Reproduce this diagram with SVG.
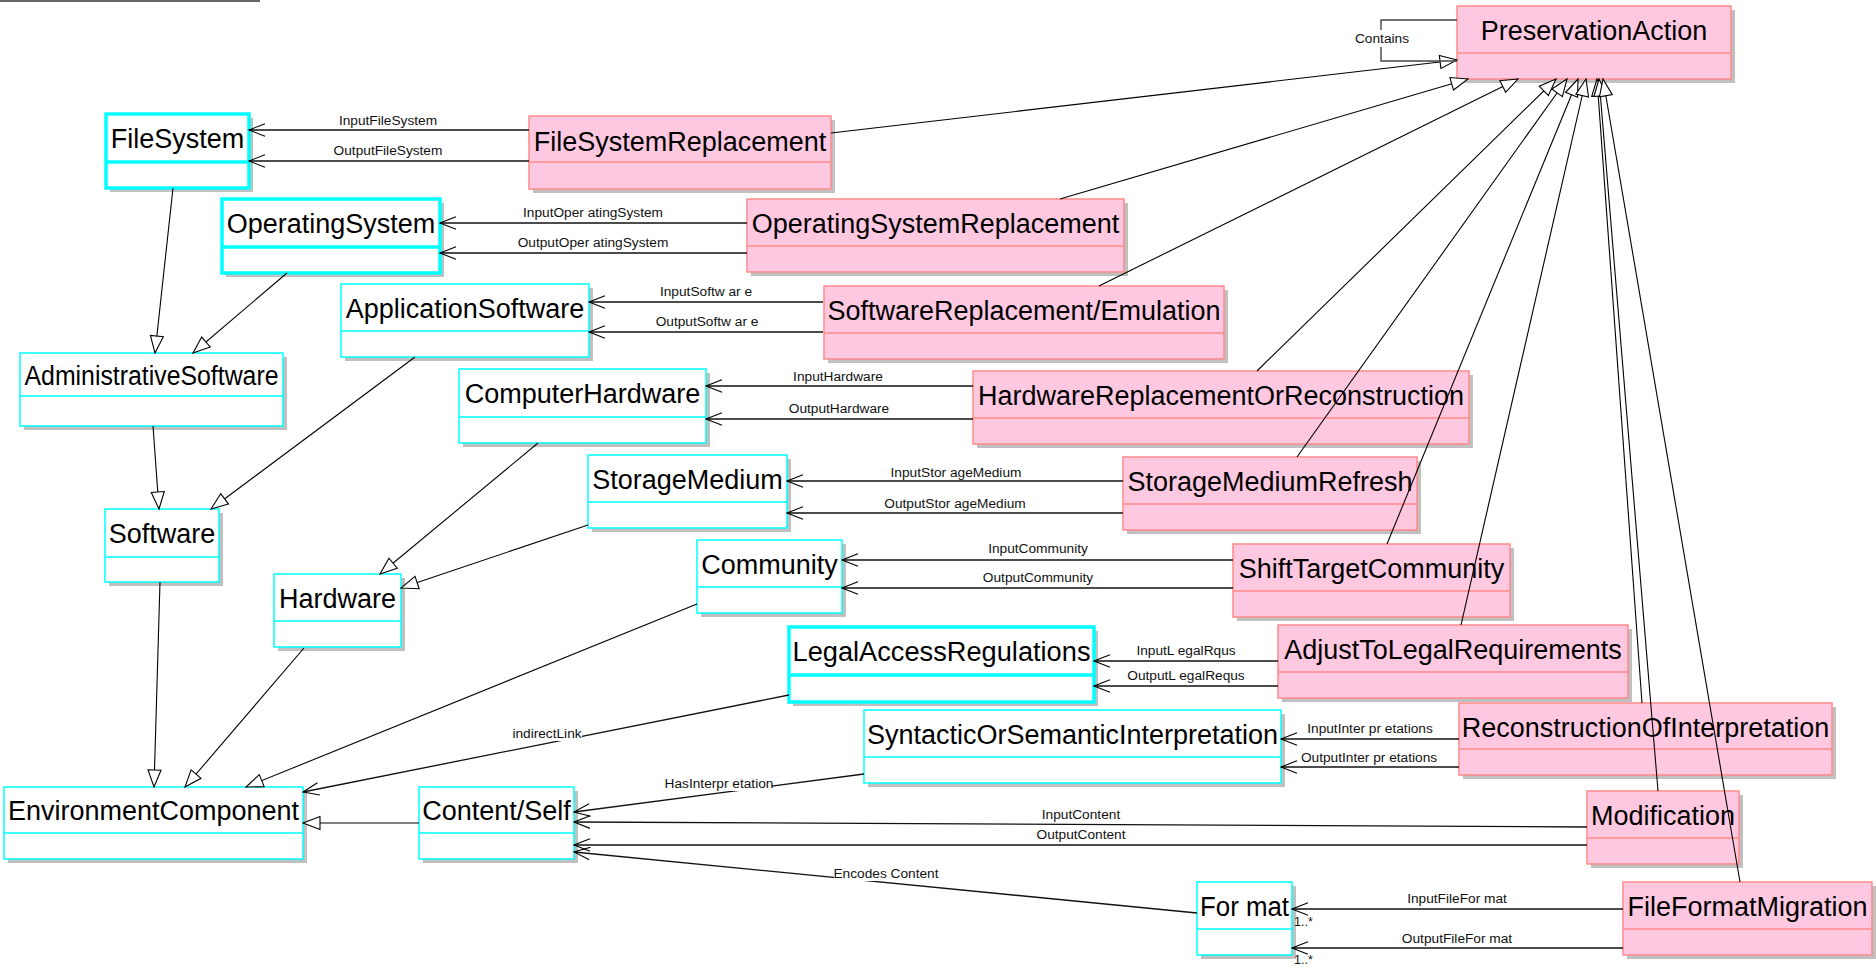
<svg xmlns="http://www.w3.org/2000/svg" width="1876" height="974" viewBox="0 0 1876 974">
<style>
  .sh{fill:#c0c0c0;stroke:none}
  .cy .box{fill:#fff;stroke:#00ffff;stroke-width:1.5}
  .cy .div{stroke:#00ffff;stroke-width:1.5}
  .thick .box{stroke-width:3.5}
  .thick .div{stroke-width:3.5}
  .pk .box{fill:#ffc8e1;stroke:#ff8a8a;stroke-width:1.5}
  .pk .div{stroke:#ff8a8a;stroke-width:1.5}
  .title{font-family:"Liberation Sans",Arial,sans-serif;font-size:27px;fill:#000;text-anchor:middle}
  .lbl{font-family:"Liberation Sans",Arial,sans-serif;font-size:13.7px;fill:#111;text-anchor:middle}
  .mult{font-family:"Liberation Sans",Arial,sans-serif;font-size:12.5px;fill:#111}
  .gen{fill:none;stroke:#000;stroke-width:1.1;marker-end:url(#gen)}
  .asc{fill:none;stroke:#111;stroke-width:1.3;marker-end:url(#open)}
  .loop{fill:none;stroke:#444;stroke-width:1.4}
  .bg{fill:#fff}
</style>
<defs>
  <marker id="gen" viewBox="-19 -9 21 18" markerWidth="21" markerHeight="18" refX="0" refY="0" orient="auto" markerUnits="userSpaceOnUse">
    <path d="M0,0 L-17,-6.5 L-17,6.5 Z" fill="#fff" stroke="#000" stroke-width="1.1"/>
  </marker>
  <marker id="open" viewBox="-19 -9 21 18" markerWidth="21" markerHeight="18" refX="0" refY="0" orient="auto" markerUnits="userSpaceOnUse">
    <path d="M-16,-6.3 L0,0 L-16,6.3" fill="none" stroke="#000" stroke-width="1.1"/>
  </marker>
</defs>
<rect width="1876" height="974" fill="#fff"/>
<line x1="0" y1="1" x2="260" y2="1" stroke="#333" stroke-width="1.3"/>

<g id="nodes">
  <g id="n-FileSystem" class="cy thick">
    <rect class="sh" x="110" y="118" width="143" height="74"/>
    <rect class="box" x="106" y="114" width="143" height="74"/>
    <line class="div" x1="106" y1="162" x2="249" y2="162"/>
    <text class="title" x="177.5" y="148">FileSystem</text>
  </g>
  <g id="n-OperatingSystem" class="cy thick">
    <rect class="sh" x="226" y="203" width="218" height="74"/>
    <rect class="box" x="222" y="199" width="218" height="74"/>
    <line class="div" x1="222" y1="247" x2="440" y2="247"/>
    <text class="title" x="331" y="233">OperatingSystem</text>
  </g>
  <g id="n-ApplicationSoftware" class="cy">
    <rect class="sh" x="345" y="288" width="248" height="73"/>
    <rect class="box" x="341" y="284" width="248" height="73"/>
    <line class="div" x1="341" y1="331" x2="589" y2="331"/>
    <text class="title" x="465" y="318">ApplicationSoftware</text>
  </g>
  <g id="n-AdministrativeSoftware" class="cy">
    <rect class="sh" x="24" y="357" width="263" height="73"/>
    <rect class="box" x="20" y="353" width="263" height="73"/>
    <line class="div" x1="20" y1="396" x2="283" y2="396"/>
    <text class="title" x="151.5" y="385" textLength="254" lengthAdjust="spacingAndGlyphs">AdministrativeSoftware</text>
  </g>
  <g id="n-ComputerHardware" class="cy">
    <rect class="sh" x="463" y="373" width="247" height="74"/>
    <rect class="box" x="459" y="369" width="247" height="74"/>
    <line class="div" x1="459" y1="417" x2="706" y2="417"/>
    <text class="title" x="582.5" y="403">ComputerHardware</text>
  </g>
  <g id="n-StorageMedium" class="cy">
    <rect class="sh" x="592" y="459" width="199" height="73"/>
    <rect class="box" x="588" y="455" width="199" height="73"/>
    <line class="div" x1="588" y1="502" x2="787" y2="502"/>
    <text class="title" x="687.5" y="489">StorageMedium</text>
  </g>
  <g id="n-Community" class="cy">
    <rect class="sh" x="701" y="544" width="145" height="73"/>
    <rect class="box" x="697" y="540" width="145" height="73"/>
    <line class="div" x1="697" y1="587" x2="842" y2="587"/>
    <text class="title" x="769.5" y="574">Community</text>
  </g>
  <g id="n-LegalAccessRegulations" class="cy thick">
    <rect class="sh" x="793" y="631" width="305" height="75"/>
    <rect class="box" x="789" y="627" width="305" height="75"/>
    <line class="div" x1="789" y1="675" x2="1094" y2="675"/>
    <text class="title" x="941.5" y="661" textLength="298" lengthAdjust="spacingAndGlyphs">LegalAccessRegulations</text>
  </g>
  <g id="n-SyntacticOrSemanticInterpretation" class="cy">
    <rect class="sh" x="868" y="714" width="417" height="73"/>
    <rect class="box" x="864" y="710" width="417" height="73"/>
    <line class="div" x1="864" y1="757" x2="1281" y2="757"/>
    <text class="title" x="1072.5" y="744">SyntacticOrSemanticInterpretation</text>
  </g>
  <g id="n-Software" class="cy">
    <rect class="sh" x="109" y="513" width="114" height="73"/>
    <rect class="box" x="105" y="509" width="114" height="73"/>
    <line class="div" x1="105" y1="557" x2="219" y2="557"/>
    <text class="title" x="162" y="543">Software</text>
  </g>
  <g id="n-Hardware" class="cy">
    <rect class="sh" x="278" y="578" width="127" height="73"/>
    <rect class="box" x="274" y="574" width="127" height="73"/>
    <line class="div" x1="274" y1="621" x2="401" y2="621"/>
    <text class="title" x="337.5" y="608">Hardware</text>
  </g>
  <g id="n-EnvironmentComponent" class="cy">
    <rect class="sh" x="8" y="791" width="299" height="72"/>
    <rect class="box" x="4" y="787" width="299" height="72"/>
    <line class="div" x1="4" y1="833" x2="303" y2="833"/>
    <text class="title" x="153.5" y="820">EnvironmentComponent</text>
  </g>
  <g id="n-ContentSelf" class="cy">
    <rect class="sh" x="423" y="791" width="155" height="72"/>
    <rect class="box" x="419" y="787" width="155" height="72"/>
    <line class="div" x1="419" y1="833" x2="574" y2="833"/>
    <text class="title" x="496.5" y="820">Content/Self</text>
  </g>
  <g id="n-Format" class="cy">
    <rect class="sh" x="1201" y="886" width="95" height="73"/>
    <rect class="box" x="1197" y="882" width="95" height="73"/>
    <line class="div" x1="1197" y1="929" x2="1292" y2="929"/>
    <text class="title" x="1244.5" y="916" textLength="89" lengthAdjust="spacingAndGlyphs">For mat</text>
  </g>

  <g id="n-PreservationAction" class="pk">
    <rect class="sh" x="1461" y="10" width="274" height="73"/>
    <rect class="box" x="1457" y="6" width="274" height="73"/>
    <line class="div" x1="1457" y1="53" x2="1731" y2="53"/>
    <text class="title" x="1594" y="40">PreservationAction</text>
  </g>
  <g id="n-FileSystemReplacement" class="pk">
    <rect class="sh" x="533" y="120" width="302" height="73"/>
    <rect class="box" x="529" y="116" width="302" height="73"/>
    <line class="div" x1="529" y1="162" x2="831" y2="162"/>
    <text class="title" x="680" y="151">FileSystemReplacement</text>
  </g>
  <g id="n-OperatingSystemReplacement" class="pk">
    <rect class="sh" x="751" y="203" width="377" height="73"/>
    <rect class="box" x="747" y="199" width="377" height="73"/>
    <line class="div" x1="747" y1="246" x2="1124" y2="246"/>
    <text class="title" x="935.5" y="233">OperatingSystemReplacement</text>
  </g>
  <g id="n-SoftwareReplacementEmulation" class="pk">
    <rect class="sh" x="828" y="290" width="400" height="73"/>
    <rect class="box" x="824" y="286" width="400" height="73"/>
    <line class="div" x1="824" y1="333" x2="1224" y2="333"/>
    <text class="title" x="1024" y="320">SoftwareReplacement/Emulation</text>
  </g>
  <g id="n-HardwareReplacementOrReconstruction" class="pk">
    <rect class="sh" x="977" y="375" width="496" height="73"/>
    <rect class="box" x="973" y="371" width="496" height="73"/>
    <line class="div" x1="973" y1="418" x2="1469" y2="418"/>
    <text class="title" x="1221" y="405">HardwareReplacementOrReconstruction</text>
  </g>
  <g id="n-StorageMediumRefresh" class="pk">
    <rect class="sh" x="1127" y="461" width="294" height="73"/>
    <rect class="box" x="1123" y="457" width="294" height="73"/>
    <line class="div" x1="1123" y1="504" x2="1417" y2="504"/>
    <text class="title" x="1270" y="491">StorageMediumRefresh</text>
  </g>
  <g id="n-ShiftTargetCommunity" class="pk">
    <rect class="sh" x="1237" y="548" width="277" height="73"/>
    <rect class="box" x="1233" y="544" width="277" height="73"/>
    <line class="div" x1="1233" y1="591" x2="1510" y2="591"/>
    <text class="title" x="1371.5" y="578">ShiftTargetCommunity</text>
  </g>
  <g id="n-AdjustToLegalRequirements" class="pk">
    <rect class="sh" x="1282" y="629" width="350" height="73"/>
    <rect class="box" x="1278" y="625" width="350" height="73"/>
    <line class="div" x1="1278" y1="672" x2="1628" y2="672"/>
    <text class="title" x="1453" y="659">AdjustToLegalRequirements</text>
  </g>
  <g id="n-ReconstructionOfInterpretation" class="pk">
    <rect class="sh" x="1463" y="707" width="373" height="72"/>
    <rect class="box" x="1459" y="703" width="373" height="72"/>
    <line class="div" x1="1459" y1="749" x2="1832" y2="749"/>
    <text class="title" x="1645.5" y="737">ReconstructionOfInterpretation</text>
  </g>
  <g id="n-Modification" class="pk">
    <rect class="sh" x="1591" y="795" width="152" height="73"/>
    <rect class="box" x="1587" y="791" width="152" height="73"/>
    <line class="div" x1="1587" y1="838" x2="1739" y2="838"/>
    <text class="title" x="1663" y="825">Modification</text>
  </g>
  <g id="n-FileFormatMigration" class="pk">
    <rect class="sh" x="1627" y="886" width="249" height="73"/>
    <rect class="box" x="1623" y="882" width="249" height="73"/>
    <line class="div" x1="1623" y1="929" x2="1872" y2="929"/>
    <text class="title" x="1747.5" y="916">FileFormatMigration</text>
  </g>
</g>

<g id="connectors">
  <!-- generalizations, left side -->
  <line class="gen" x1="173" y1="188" x2="155" y2="353"/>
  <line class="gen" x1="287" y1="273" x2="193" y2="353"/>
  <line class="gen" x1="153" y1="426" x2="159" y2="509"/>
  <line class="gen" x1="415" y1="357" x2="211" y2="509"/>
  <line class="gen" x1="538" y1="443" x2="380" y2="574"/>
  <line class="gen" x1="588" y1="525" x2="401" y2="588"/>
  <line class="gen" x1="160" y1="582" x2="154" y2="787"/>
  <line class="gen" x1="304" y1="648" x2="185" y2="787"/>
  <line class="gen" x1="697" y1="604" x2="246" y2="787"/>
  <line class="gen" x1="419" y1="823" x2="303" y2="823"/>
  <!-- generalizations to PreservationAction -->
  <line class="gen" x1="831" y1="133" x2="1457" y2="60"/>
  <line class="gen" x1="1060" y1="199" x2="1468" y2="79"/>
  <line class="gen" x1="1099" y1="286" x2="1518" y2="79"/>
  <line class="gen" x1="1257" y1="371" x2="1556" y2="79"/>
  <line class="gen" x1="1297" y1="457" x2="1567" y2="79"/>
  <line class="gen" x1="1387" y1="544" x2="1578" y2="79"/>
  <line class="gen" x1="1461" y1="625" x2="1586" y2="79"/>
  <line class="gen" x1="1642" y1="703" x2="1597" y2="79"/>
  <line class="gen" x1="1658" y1="791" x2="1599" y2="79"/>
  <line class="gen" x1="1740" y1="882" x2="1603" y2="79"/>
  <!-- Contains self loop -->
  <path class="loop" d="M1457,20 H1381 V61 H1457"/>
  <!-- associations -->
  <line class="asc" x1="529" y1="130" x2="249" y2="130"/>
  <line class="asc" x1="529" y1="161" x2="249" y2="161"/>
  <line class="asc" x1="747" y1="223" x2="440" y2="223"/>
  <line class="asc" x1="747" y1="253" x2="440" y2="253"/>
  <line class="asc" x1="823" y1="302" x2="589" y2="302"/>
  <line class="asc" x1="823" y1="332" x2="589" y2="332"/>
  <line class="asc" x1="973" y1="386" x2="706" y2="386"/>
  <line class="asc" x1="973" y1="419" x2="706" y2="419"/>
  <line class="asc" x1="1123" y1="481" x2="787" y2="481"/>
  <line class="asc" x1="1123" y1="513" x2="787" y2="513"/>
  <line class="asc" x1="1233" y1="560" x2="842" y2="560"/>
  <line class="asc" x1="1233" y1="588" x2="842" y2="588"/>
  <line class="asc" x1="1278" y1="661" x2="1094" y2="661"/>
  <line class="asc" x1="1278" y1="686" x2="1094" y2="686"/>
  <line class="asc" x1="1459" y1="739" x2="1281" y2="739"/>
  <line class="asc" x1="1459" y1="767" x2="1281" y2="767"/>
  <line class="asc" x1="1587" y1="827" x2="574" y2="822"/>
  <line class="asc" x1="1587" y1="845" x2="574" y2="845"/>
  <line class="asc" x1="1623" y1="909" x2="1292" y2="909"/>
  <line class="asc" x1="1623" y1="948" x2="1292" y2="948"/>
  <line class="asc" x1="864" y1="774" x2="574" y2="812"/>
  <line class="asc" x1="1197" y1="913" x2="574" y2="852"/>
  <line class="asc" x1="789" y1="695" x2="303" y2="792"/>

  <!-- labels -->
  <rect class="bg" x="1354" y="30" width="56" height="17"/>
  <text class="lbl" x="1382" y="43">Contains</text>
  <text class="lbl" x="388" y="125">InputFileSystem</text>
  <text class="lbl" x="388" y="155">OutputFileSystem</text>
  <text class="lbl" x="593" y="217">InputOper atingSystem</text>
  <text class="lbl" x="593" y="247">OutputOper atingSystem</text>
  <text class="lbl" x="706" y="296">InputSoftw ar e</text>
  <text class="lbl" x="707" y="326">OutputSoftw ar e</text>
  <text class="lbl" x="838" y="381">InputHardware</text>
  <text class="lbl" x="839" y="413">OutputHardware</text>
  <text class="lbl" x="956" y="477">InputStor ageMedium</text>
  <text class="lbl" x="955" y="508">OutputStor ageMedium</text>
  <text class="lbl" x="1038" y="553">InputCommunity</text>
  <text class="lbl" x="1038" y="582">OutputCommunity</text>
  <text class="lbl" x="1186" y="655">InputL egalRqus</text>
  <text class="lbl" x="1186" y="680">OutputL egalRequs</text>
  <text class="lbl" x="1370" y="733">InputInter pr etations</text>
  <text class="lbl" x="1369" y="762">OutputInter pr etations</text>
  <text class="lbl" x="1081" y="819">InputContent</text>
  <text class="lbl" x="1081" y="839">OutputContent</text>
  <text class="lbl" x="1457" y="903">InputFileFor mat</text>
  <text class="lbl" x="1457" y="943">OutputFileFor mat</text>
  <rect class="bg" x="512" y="727" width="70" height="14"/>
  <text class="lbl" x="547" y="738">indirectLink</text>
  <rect class="bg" x="666" y="777" width="106" height="14"/>
  <text class="lbl" x="719" y="788">HasInterpr etation</text>
  <rect class="bg" x="834" y="867" width="104" height="14"/>
  <text class="lbl" x="886" y="878">Encodes Content</text>
  <text class="mult" x="1294" y="926">1..*</text>
  <text class="mult" x="1294" y="964">1..*</text>
</g>
</svg>
